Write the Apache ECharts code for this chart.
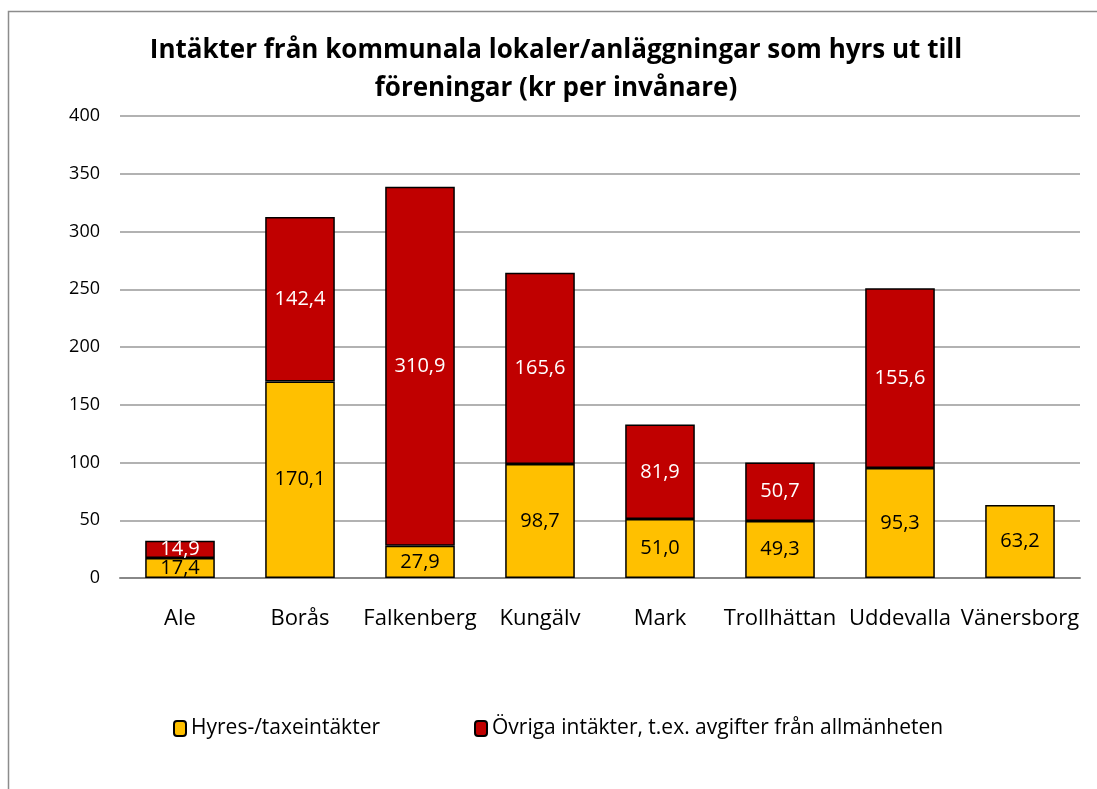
<!DOCTYPE html>
<html>
<head>
<meta charset="utf-8">
<script src="https://cdn.jsdelivr.net/npm/echarts@6/dist/echarts.min.js"></script>
<style>
  html, body { margin: 0; padding: 0; background: #fff; }
  #chart { width: 1097px; height: 789px; }
</style>
</head>
<body>
<div id="chart"></div>
<script>
const categories = ['Ale', 'Borås', 'Falkenberg', 'Kungälv', 'Mark', 'Trollhättan', 'Uddevalla', 'Vänersborg']
const hyresValues = [17.4, 170.1, 27.9, 98.7, 51.0, 49.3, 95.3, 63.2]
const ovrigaValues = [14.9, 142.4, 310.9, 165.6, 81.9, 50.7, 155.6, null]
const seriesNames = ['Hyres-/taxeintäkter', 'Övriga intäkter, t.ex. avgifter från allmänheten']

const font = '"Open Sans", "Liberation Sans", sans-serif'
const fmt = p => p.value == null ? '' : p.value.toFixed(1).replace('.', ',')

const chart = echarts.init(document.getElementById('chart'))
chart.setOption({
  animation: false,
  textStyle: { fontFamily: font },
  graphic: [{
    type: 'rect',
    shape: { x: 8.5, y: 11.5, width: 1200, height: 900 },
    style: { fill: 'none', stroke: '#8c8c8c', lineWidth: 1.5 },
    silent: true
  }],
  title: {
    text: 'Intäkter från kommunala lokaler/anläggningar som hyrs ut till\nföreningar (kr per invånare)',
    left: 551,
    textAlign: 'center',
    top: 27,
    textStyle: { fontFamily: font, fontSize: 26, fontWeight: 'bold', color: '#000', lineHeight: 38 }
  },
  legend: {
    bottom: 45,
    left: 168,
    itemGap: 94,
    itemWidth: 12,
    itemHeight: 15,
    textStyle: { fontFamily: font, fontSize: 21, color: '#000' },
    data: seriesNames
  },
  grid: { left: 120, right: 17, top: 116, bottom: 211 },
  xAxis: {
    type: 'category',
    data: categories,
    axisTick: { show: false },
    axisLine: { lineStyle: { color: '#888', width: 2 } },
    axisLabel: { fontFamily: font, fontSize: 22, color: '#000', margin: 30, interval: 0 }
  },
  yAxis: {
    type: 'value',
    min: 0,
    max: 400,
    interval: 50,
    axisLine: { show: false },
    axisTick: { show: false },
    splitLine: { lineStyle: { color: '#999', width: 1.5 } },
    axisLabel: { fontFamily: font, fontSize: 18, color: '#000', margin: 20 }
  },
  series: [
    {
      name: seriesNames[0],
      type: 'bar',
      stack: 'total',
      data: hyresValues,
      barWidth: '58%',
      itemStyle: { color: '#FFC000', borderColor: '#000', borderWidth: 1.5 },
      label: { show: true, position: 'inside', formatter: fmt, color: '#000', fontSize: 20, fontFamily: font }
    },
    {
      name: seriesNames[1],
      type: 'bar',
      stack: 'total',
      data: ovrigaValues,
      barWidth: '58%',
      itemStyle: { color: '#C00000', borderColor: '#000', borderWidth: 1.5 },
      label: { show: true, position: 'inside', formatter: fmt, color: '#fff', fontSize: 20, fontFamily: font }
    }
  ]
})
</script>
</body>
</html>
